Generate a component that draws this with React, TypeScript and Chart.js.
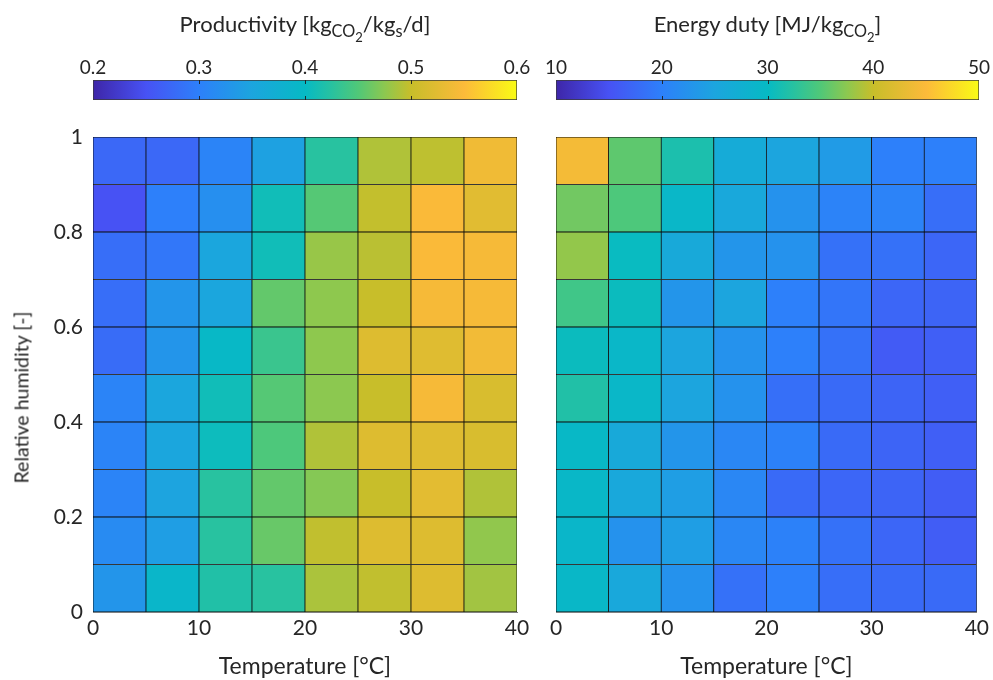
import React, { useEffect, useRef } from "react";
import { Chart, registerables } from "chart.js";

Chart.register(...registerables);

// ---------- data ----------
const temperatureEdges = [0, 5, 10, 15, 20, 25, 30, 35, 40];
const humidityEdges = [0, 0.1, 0.2, 0.3, 0.4, 0.5, 0.6, 0.7, 0.8, 0.9, 1.0];
const temperatureTicks = [0, 10, 20, 30, 40];
const humidityTicks = [0, 0.2, 0.4, 0.6, 0.8, 1];
const productivityTicks = [0.2, 0.3, 0.4, 0.5, 0.6];
const energyTicks = [10, 20, 30, 40, 50];

// rows: relative humidity bins from 0-0.1 (first) up to 0.9-1.0 (last)
// columns: temperature bins 0-5, 5-10, ..., 35-40
const productivity = [
  [0.328, 0.39, 0.42, 0.425, 0.488, 0.497, 0.52, 0.484],
  [0.315, 0.34, 0.425, 0.46, 0.497, 0.52, 0.52, 0.477],
  [0.305, 0.348, 0.425, 0.458, 0.472, 0.5, 0.526, 0.49],
  [0.305, 0.352, 0.405, 0.448, 0.49, 0.52, 0.522, 0.515],
  [0.305, 0.352, 0.408, 0.452, 0.475, 0.5, 0.544, 0.515],
  [0.278, 0.328, 0.396, 0.436, 0.476, 0.52, 0.522, 0.54],
  [0.28, 0.328, 0.352, 0.458, 0.476, 0.5, 0.544, 0.544],
  [0.28, 0.29, 0.352, 0.408, 0.48, 0.494, 0.548, 0.544],
  [0.25, 0.3, 0.32, 0.408, 0.452, 0.498, 0.548, 0.524],
  [0.274, 0.274, 0.305, 0.345, 0.425, 0.49, 0.496, 0.538],
];

const energyDuty = [
  [29.4, 25.6, 22.4, 18.4, 20.0, 18.0, 17.6, 17.6],
  [29.0, 22.4, 24.0, 21.0, 20.2, 18.4, 17.2, 16.2],
  [29.4, 25.6, 24.0, 21.0, 17.6, 17.2, 17.0, 16.2],
  [29.6, 26.0, 22.8, 21.0, 20.2, 17.6, 17.0, 16.4],
  [32.0, 29.2, 25.0, 22.4, 18.2, 17.6, 17.0, 16.4],
  [30.4, 29.2, 25.0, 22.4, 20.0, 18.4, 16.0, 16.4],
  [34.0, 30.4, 22.8, 25.0, 20.0, 18.8, 17.2, 17.0],
  [37.8, 30.2, 26.0, 22.8, 22.4, 18.4, 18.4, 17.2],
  [36.4, 34.8, 29.2, 25.6, 22.4, 20.4, 20.4, 18.0],
  [44.2, 35.6, 31.6, 26.4, 25.0, 23.6, 20.0, 20.0],
];

// ---------- style ----------
const FONT = "Lato, 'DejaVu Sans', sans-serif";
const TEXT = "#262626";
const FRAME = "#808080";
const CELL_BORDER = "rgba(0,0,0,0.95)";
const W = 993;
const H = 680;

const parulaStops: [number, number[]][] = [
  [0.0, [62, 38, 168]],
  [0.125, [71, 82, 244]],
  [0.25, [45, 128, 250]],
  [0.375, [28, 165, 222]],
  [0.5, [6, 186, 196]],
  [0.5625, [40, 194, 160]],
  [0.625, [80, 200, 120]],
  [0.6875, [140, 200, 80]],
  [0.75, [200, 190, 42]],
  [0.875, [252, 186, 58]],
  [1.0, [249, 251, 21]],
];

function parula(t: number): string {
  const x = Math.max(0, Math.min(1, t));
  for (let i = 1; i < parulaStops.length; i++) {
    const [t1, c1] = parulaStops[i];
    const [t0, c0] = parulaStops[i - 1];
    if (x <= t1) {
      const f = (x - t0) / (t1 - t0);
      const c = c0.map((v, k) => Math.round(v + (c1[k] - v) * f));
      return `rgb(${c[0]},${c[1]},${c[2]})`;
    }
  }
  const c = parulaStops[parulaStops.length - 1][1];
  return `rgb(${c[0]},${c[1]},${c[2]})`;
}

const plainLabel = (v: any) => String(Math.round(Number(v) * 1000) / 1000);

function heatmapConfig(
  values: number[][],
  vmin: number,
  vmax: number,
  padLeft: number,
  padRight: number,
  showY: boolean
): any {
  const datasets = values.map((row, r) => ({
    data: row.map((_v, c) => ({
      x: (temperatureEdges[c] + temperatureEdges[c + 1]) / 2,
      y: [humidityEdges[r], humidityEdges[r + 1]],
    })),
    backgroundColor: row.map((v) => parula((v - vmin) / (vmax - vmin))),
    borderColor: CELL_BORDER,
    borderWidth: 0.75,
    borderSkipped: false,
    barPercentage: 1,
    categoryPercentage: 1,
    grouped: false,
  }));
  const tickFont = { family: FONT, size: 21 };
  return {
    type: "bar",
    data: { datasets },
    options: {
      responsive: false,
      animation: false,
      events: [],
      layout: { padding: { left: padLeft, right: padRight, top: 137, bottom: 0 } },
      plugins: { legend: { display: false }, tooltip: { enabled: false } },
      scales: {
        x: {
          type: "linear",
          min: temperatureEdges[0],
          max: temperatureEdges[temperatureEdges.length - 1],
          offset: false,
          afterBuildTicks: (s: any) => {
            s.ticks = temperatureTicks.map((value) => ({ value }));
          },
          grid: { display: false, drawTicks: false },
          border: { display: true, color: FRAME },
          ticks: { padding: 4, color: TEXT, font: tickFont, maxRotation: 0, autoSkip: false, callback: plainLabel },
          title: {
            display: true,
            text: "Temperature [°C]",
            color: TEXT,
            font: { family: FONT, size: 23 },
            padding: { top: 0, bottom: 0 },
          },
          afterFit: (s: any) => {
            s.height = 68;
          },
        },
        y: {
          type: "linear",
          min: humidityEdges[0],
          max: humidityEdges[humidityEdges.length - 1],
          afterBuildTicks: (s: any) => {
            s.ticks = humidityTicks.map((value) => ({ value }));
          },
          grid: { display: false, drawTicks: false },
          border: { display: true, color: FRAME },
          ticks: { display: showY, padding: 10, color: TEXT, font: tickFont, autoSkip: false, callback: plainLabel },
          afterFit: (s: any) => {
            s.width = showY ? 93 : 0;
          },
        },
      },
    },
  };
}

const colorbarTickMarks = {
  id: "colorbarTickMarks",
  afterDatasetsDraw(chart: any) {
    const { ctx, chartArea, scales } = chart;
    const xs = scales.x;
    ctx.save();
    ctx.strokeStyle = "rgba(30,30,30,0.9)";
    ctx.lineWidth = 1;
    xs.ticks.forEach((t: any, i: number) => {
      if (i === 0 || i === xs.ticks.length - 1) return;
      const px = Math.round(xs.getPixelForValue(t.value)) + 0.5;
      ctx.beginPath();
      ctx.moveTo(px, chartArea.top);
      ctx.lineTo(px, chartArea.top + 4);
      ctx.moveTo(px, chartArea.bottom);
      ctx.lineTo(px, chartArea.bottom - 4);
      ctx.stroke();
    });
    ctx.restore();
  },
};

function colorbarConfig(vmin: number, vmax: number, ticks: number[], padLeft: number, padRight: number): any {
  return {
    type: "bar",
    data: {
      labels: ["colorbar"],
      datasets: [
        {
          data: [[vmin, vmax]],
          backgroundColor: (ctx: any) => {
            const a = ctx.chart.chartArea;
            if (!a) return "transparent";
            const g = ctx.chart.ctx.createLinearGradient(a.left, 0, a.right, 0);
            parulaStops.forEach(([t, c]) => g.addColorStop(t, `rgb(${c[0]},${c[1]},${c[2]})`));
            return g;
          },
          borderColor: "#3a3a3a",
          borderWidth: 1,
          borderSkipped: false,
          barPercentage: 1,
          categoryPercentage: 1,
        },
      ],
    },
    plugins: [colorbarTickMarks],
    options: {
      indexAxis: "y",
      responsive: false,
      animation: false,
      events: [],
      layout: { padding: { left: padLeft, right: padRight, top: 50, bottom: H - 100 } },
      plugins: { legend: { display: false }, tooltip: { enabled: false } },
      scales: {
        x: {
          type: "linear",
          position: "top",
          min: vmin,
          max: vmax,
          afterBuildTicks: (s: any) => {
            s.ticks = ticks.map((value) => ({ value }));
          },
          grid: { display: false, drawTicks: false },
          border: { display: false },
          ticks: {
            padding: 1,
            color: TEXT,
            font: { family: FONT, size: 19 },
            maxRotation: 0,
            autoSkip: false,
            callback: plainLabel,
          },
          afterFit: (s: any) => {
            s.height = 30;
          },
        },
        y: { display: false },
      },
    },
  };
}

function ChartCanvas({ config }: { config: () => any }) {
  const ref = useRef<HTMLCanvasElement>(null);
  useEffect(() => {
    if (!ref.current) return;
    const chart = new Chart(ref.current, config());
    return () => chart.destroy();
  }, []);
  return (
    <canvas
      ref={ref}
      width={W}
      height={H}
      style={{ position: "absolute", left: 0, top: 0, width: W, height: H }}
    />
  );
}

const subStyle: React.CSSProperties = { fontSize: "0.74em", verticalAlign: "-0.32em", lineHeight: 0 };
const sub2Style: React.CSSProperties = { fontSize: "0.8em", verticalAlign: "-0.38em", lineHeight: 0 };

export default function App() {
  return (
    <div
      style={{
        position: "absolute",
        left: 0,
        top: 0,
        width: W,
        height: H,
        background: "#fff",
        fontFamily: FONT,
        color: TEXT,
        overflow: "hidden",
      }}
    >
      <ChartCanvas config={() => colorbarConfig(0.2, 0.6, productivityTicks, 93, W - 517)} />
      <ChartCanvas config={() => colorbarConfig(10, 50, energyTicks, 556, W - 979)} />
      <ChartCanvas config={() => heatmapConfig(productivity, 0.2, 0.6, 0, W - 517, true)} />
      <ChartCanvas config={() => heatmapConfig(energyDuty, 10, 50, 556, W - 979, false)} />

      <div
        style={{
          position: "absolute",
          left: 93,
          width: 424,
          top: 13,
          textAlign: "center",
          fontSize: 22,
          lineHeight: "21px",
          whiteSpace: "nowrap",
        }}
      >
        Productivity [kg
        <span style={subStyle}>
          CO<span style={sub2Style}>2</span>
        </span>
        /kg<span style={subStyle}>s</span>/d]
      </div>
      <div
        style={{
          position: "absolute",
          left: 556,
          width: 423,
          top: 13,
          textAlign: "center",
          fontSize: 22,
          lineHeight: "21px",
          whiteSpace: "nowrap",
        }}
      >
        Energy duty [MJ/kg
        <span style={subStyle}>
          CO<span style={sub2Style}>2</span>
        </span>
        ]
      </div>
      <div
        style={{
          position: "absolute",
          left: 21 - 150,
          top: 397 - 10.5,
          width: 300,
          height: 21,
          lineHeight: "21px",
          fontSize: 19.5,
          textAlign: "center",
          transform: "rotate(-90deg)",
          transformOrigin: "50% 50%",
          whiteSpace: "nowrap",
        }}
      >
        Relative humidity [-]
      </div>
    </div>
  );
}
